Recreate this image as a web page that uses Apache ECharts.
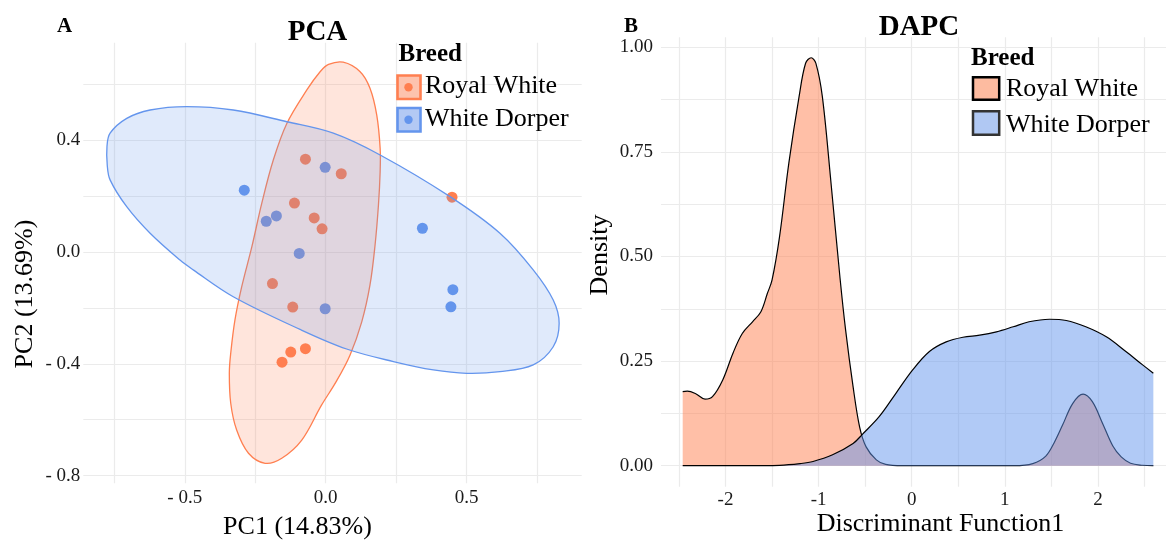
<!DOCTYPE html>
<html>
<head>
<meta charset="utf-8">
<script src="https://cdn.jsdelivr.net/npm/echarts@6/dist/echarts.min.js"></script>
<style>
html,body{margin:0;padding:0;background:#fff;}
#chart{width:1166px;height:540px;}
</style>
</head>
<body>
<div id="chart"></div>
<script>
// ---------- Panel A: PCA ----------
const rwPC1 = [-0.072, 0.055, 0.448, -0.111, -0.041, -0.013, -0.189, -0.117, -0.072, -0.124, -0.155];
const rwPC2 = [0.332, 0.280, 0.196, 0.175, 0.122, 0.083, -0.113, -0.197, -0.346, -0.358, -0.394];
const wdPC1 = [-0.002, -0.289, -0.175, -0.211, 0.343, -0.094, 0.451, 0.444, -0.002];
const wdPC2 = [0.303, 0.221, 0.129, 0.110, 0.085, -0.005, -0.135, -0.196, -0.203];

// ellipse outlines (PC1, PC2)
const rwEllipse = [
  [0.062,0.679],[0.122,0.645],[0.157,0.586],[0.181,0.490],[0.193,0.371],[0.193,0.287],
  [0.187,0.168],[0.175,0.025],[0.157,-0.118],[0.128,-0.249],[0.086,-0.369],[0.037,-0.464],
  [-0.015,-0.548],[-0.085,-0.673],[-0.156,-0.738],[-0.215,-0.756],[-0.274,-0.720],[-0.316,-0.637],
  [-0.337,-0.541],[-0.342,-0.434],[-0.337,-0.362],[-0.322,-0.243],[-0.298,-0.124],[-0.262,0.019],
  [-0.227,0.174],[-0.186,0.329],[-0.138,0.460],[-0.067,0.580],[-0.020,0.645],[0.010,0.671]
];
const wdEllipse = [
  [-0.776,0.377],[-0.765,0.425],[-0.706,0.478],[-0.623,0.508],[-0.493,0.520],[-0.328,0.508],
  [-0.138,0.466],[0.027,0.425],[0.193,0.347],[0.441,0.198],[0.618,0.067],[0.736,-0.064],
  [0.807,-0.172],[0.828,-0.255],[0.807,-0.339],[0.736,-0.404],[0.618,-0.428],[0.500,-0.434],
  [0.382,-0.422],[0.240,-0.392],[0.074,-0.347],[-0.091,-0.277],[-0.328,-0.160],[-0.470,-0.064],
  [-0.517,-0.029],[-0.623,0.067],[-0.706,0.162],[-0.765,0.258],[-0.775,0.310]
];

const pcaXTicks = [-0.75, -0.5, -0.25, 0, 0.25, 0.5, 0.75];
const pcaXLabels = [-0.5, 0, 0.5];
const pcaYTicks = [-0.8, -0.6, -0.4, -0.2, 0, 0.2, 0.4, 0.6];
const pcaYLabels = [-0.8, -0.4, 0, 0.4];

// ---------- Panel B: DAPC ----------
const rwDensX = [-2.46,-2.41,-2.32,-2.22,-2.14,-2.03,-1.92,-1.82,-1.71,-1.62,-1.55,-1.50,-1.42,-1.32,-1.21,-1.14,-1.08,-1.03,-0.96,-0.87,-0.77,-0.71,-0.63,-0.56,-0.49,-0.38,-0.28,-0.10,0.50,1.10,1.30,1.44,1.53,1.62,1.73,1.84,1.94,2.05,2.16,2.25,2.35,2.48,2.595];
const rwDensY = [0.177,0.178,0.172,0.159,0.165,0.205,0.269,0.316,0.344,0.368,0.412,0.444,0.547,0.723,0.882,0.962,0.975,0.962,0.882,0.683,0.448,0.324,0.189,0.093,0.045,0.014,0.003,0.000,0.000,0.000,0.005,0.023,0.055,0.097,0.149,0.171,0.153,0.101,0.047,0.021,0.006,0.001,0.000];
const wdDensX = [-2.46,-1.80,-1.42,-1.20,-1.06,-0.85,-0.63,-0.53,-0.35,-0.17,0.01,0.19,0.37,0.55,0.73,0.91,1.09,1.26,1.48,1.66,1.87,2.09,2.30,2.48,2.595];
const wdDensY = [0.000,0.000,0.001,0.005,0.010,0.026,0.053,0.075,0.117,0.173,0.229,0.273,0.296,0.307,0.312,0.320,0.332,0.344,0.350,0.347,0.332,0.308,0.273,0.241,0.221];

const dapcXTicks = [-2.5,-2,-1.5,-1,-0.5,0,0.5,1,1.5,2,2.5];
const dapcXLabels = [-2,-1,0,1,2];
const dapcYTicks = [0,0.125,0.25,0.375,0.5,0.625,0.75,0.875,1];
const dapcYLabels = [0,0.25,0.5,0.75,1];

const CORAL = '#FF7F50';
const BLUE = '#6495ED';
const SERIF = '"Liberation Serif","Times New Roman",serif';
const GRID = '#EBEBEB';

function zip(a, b) { return a.map((v, i) => [v, b[i]]); }
function signedFmt(v) { return (v < 0 ? '- ' : '') + Math.abs(v).toFixed(1); }

function valueAxis(gridIndex, min, max, ticks, labels, fmt, margin) {
  return {
    type: 'value', gridIndex, min, max,
    axisLine: { show: false },
    axisTick: { show: false, customValues: ticks },
    axisLabel: { customValues: labels, formatter: fmt, fontFamily: SERIF, fontSize: 19, color: '#1a1a1a', margin: margin },
    splitLine: { show: true, lineStyle: { color: GRID, width: 1.2 } }
  };
}

function ellipseSeries(pts, color, fill) {
  return {
    type: 'custom', xAxisIndex: 0, yAxisIndex: 0, z: 3, silent: true,
    data: pts,
    renderItem: function (params, api) {
      if (params.dataIndex !== 0) return null;
      const p = pts.map(q => api.coord(q));
      return {
        type: 'polygon',
        shape: { points: p, smooth: 0.35 },
        style: { fill: fill, stroke: color, lineWidth: 1.3 }
      };
    }
  };
}

const chart = echarts.init(document.getElementById('chart'), null, { renderer: 'canvas' });

const option = {
  animation: false,
  backgroundColor: '#fff',
  grid: [
    { left: 83.3, top: 42.7, width: 498.4, height: 440.6 },
    { left: 661, top: 37.3, width: 505, height: 449.4 }
  ],
  xAxis: [
    valueAxis(0, -0.86, 0.908, pcaXTicks, pcaXLabels, signedFmt, 5),
    valueAxis(1, -2.693, 2.731, dapcXTicks, dapcXLabels, v => String(v), 4)
  ],
  yAxis: [
    valueAxis(0, -0.8275, 0.7488, pcaYTicks, pcaYLabels, signedFmt, 3),
    valueAxis(1, -0.0502, 1.0239, dapcYTicks, dapcYLabels, v => v.toFixed(2), 8)
  ],
  series: [
    { type: 'scatter', xAxisIndex: 0, yAxisIndex: 0, z: 2, symbolSize: 11,
      itemStyle: { color: CORAL, opacity: 1 }, data: zip(rwPC1, rwPC2) },
    { type: 'scatter', xAxisIndex: 0, yAxisIndex: 0, z: 2, symbolSize: 11,
      itemStyle: { color: BLUE, opacity: 1 }, data: zip(wdPC1, wdPC2) },
    ellipseSeries(rwEllipse, CORAL, 'rgba(255,127,80,0.2)'),
    ellipseSeries(wdEllipse, BLUE, 'rgba(100,149,237,0.2)'),
    { type: 'line', xAxisIndex: 1, yAxisIndex: 1, z: 2, smooth: 0.35,
      symbol: 'none', data: zip(rwDensX, rwDensY),
      lineStyle: { color: '#000', width: 1.2 },
      areaStyle: { color: 'rgba(255,127,80,0.5)', opacity: 1 } },
    { type: 'line', xAxisIndex: 1, yAxisIndex: 1, z: 3, smooth: 0.35,
      symbol: 'none', data: zip(wdDensX, wdDensY),
      lineStyle: { color: '#000', width: 1.2 },
      areaStyle: { color: 'rgba(100,149,237,0.5)', opacity: 1 } }
  ],
  graphic: [
    { type: 'text', x: 57, y: 27, z: 10, style: { text: 'A', font: 'bold 21px ' + SERIF, fill: '#000', textVerticalAlign: 'middle' } },
    { type: 'text', x: 317.5, y: 33, z: 10, style: { text: 'PCA', font: 'bold 29px ' + SERIF, fill: '#000', textAlign: 'center', textVerticalAlign: 'middle' } },
    { type: 'text', x: 624, y: 27, z: 10, style: { text: 'B', font: 'bold 21px ' + SERIF, fill: '#000', textVerticalAlign: 'middle' } },
    { type: 'text', x: 919, y: 28, z: 10, style: { text: 'DAPC', font: 'bold 29px ' + SERIF, fill: '#000', textAlign: 'center', textVerticalAlign: 'middle' } },
    { type: 'text', x: 297.5, y: 527, z: 10, style: { text: 'PC1 (14.83%)', font: '26px ' + SERIF, fill: '#000', textAlign: 'center', textVerticalAlign: 'middle' } },
    { type: 'text', x: 25, y: 294, rotation: Math.PI / 2, z: 10, style: { text: 'PC2 (13.69%)', font: '26px ' + SERIF, fill: '#000', textAlign: 'center', textVerticalAlign: 'middle' } },
    { type: 'text', x: 940.5, y: 524, z: 10, style: { text: 'Discriminant Function1', font: '26px ' + SERIF, fill: '#000', textAlign: 'center', textVerticalAlign: 'middle' } },
    { type: 'text', x: 600.5, y: 255, rotation: Math.PI / 2, z: 10, style: { text: 'Density', font: '26px ' + SERIF, fill: '#000', textAlign: 'center', textVerticalAlign: 'middle' } },
    { type: 'text', x: 398.5, y: 55, z: 10, style: { text: 'Breed', font: 'bold 25px ' + SERIF, fill: '#000', textVerticalAlign: 'middle' } },
    { type: 'rect', z: 10, shape: { x: 397.5, y: 75.5, width: 23, height: 23.5 }, style: { fill: '#FDC3AE', stroke: CORAL, lineWidth: 2.6 } },
    { type: 'circle', z: 11, shape: { cx: 408.5, cy: 87.3, r: 4.2 }, style: { fill: CORAL } },
    { type: 'text', x: 425, y: 86.5, z: 10, style: { text: 'Royal White', font: '26px ' + SERIF, fill: '#000', textVerticalAlign: 'middle' } },
    { type: 'rect', z: 10, shape: { x: 397.5, y: 108, width: 23, height: 23.5 }, style: { fill: '#B3C9F4', stroke: BLUE, lineWidth: 2.6 } },
    { type: 'circle', z: 11, shape: { cx: 408.5, cy: 119.8, r: 4.2 }, style: { fill: BLUE } },
    { type: 'text', x: 425, y: 118.8, z: 10, style: { text: 'White Dorper', font: '26px ' + SERIF, fill: '#000', textVerticalAlign: 'middle' } },
    { type: 'text', x: 971, y: 59, z: 10, style: { text: 'Breed', font: 'bold 25px ' + SERIF, fill: '#000', textVerticalAlign: 'middle' } },
    { type: 'rect', z: 10, shape: { x: 973, y: 77.2, width: 26.2, height: 22.6 }, style: { fill: '#FDBBA0', stroke: '#000', lineWidth: 2.5 } },
    { type: 'text', x: 1006, y: 89, z: 10, style: { text: 'Royal White', font: '26px ' + SERIF, fill: '#000', textVerticalAlign: 'middle' } },
    { type: 'rect', z: 10, shape: { x: 973, y: 111.2, width: 26.2, height: 23.6 }, style: { fill: '#B0C8F3', stroke: '#333', lineWidth: 2.5 } },
    { type: 'text', x: 1006, y: 125.5, z: 10, style: { text: 'White Dorper', font: '26px ' + SERIF, fill: '#000', textVerticalAlign: 'middle' } }
  ]
};

chart.setOption(option);
</script>
</body>
</html>
